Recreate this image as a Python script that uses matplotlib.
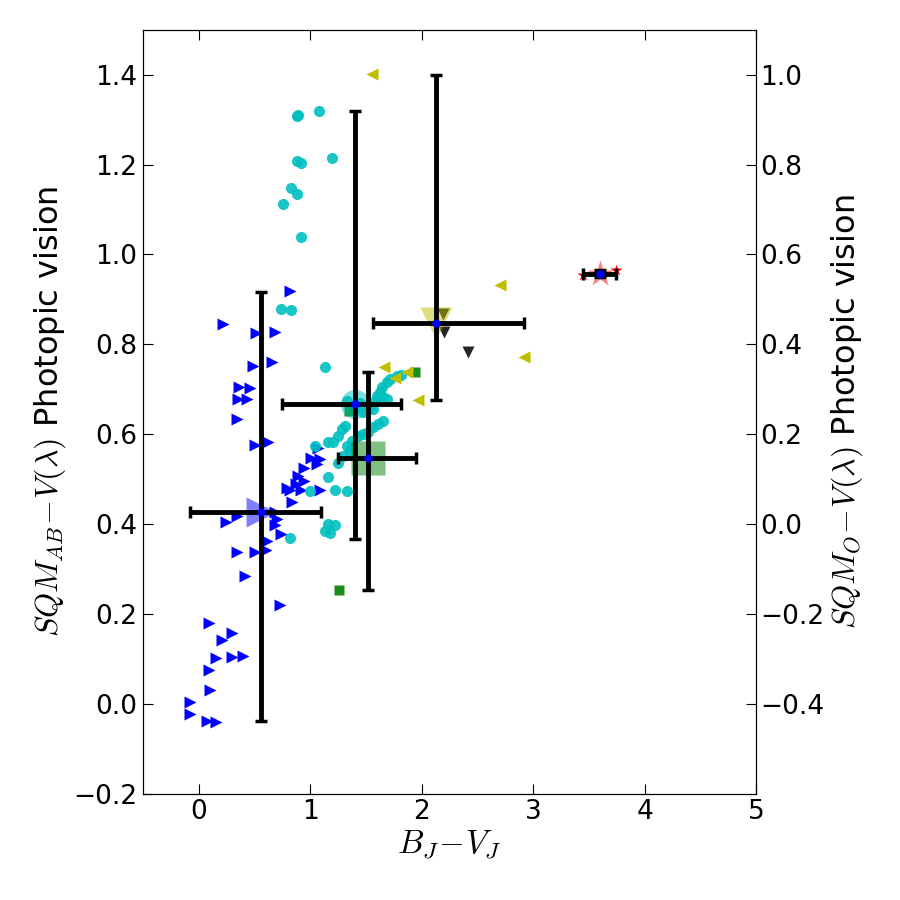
import numpy as np
import matplotlib
matplotlib.use("Agg")
import matplotlib.pyplot as plt

plt.rcParams["mathtext.fontset"] = "cm"
plt.rcParams["font.family"] = "DejaVu Sans"

# ---- data ----
blue_x = [0.82, 0.215, 0.51, 0.68, 0.485, 0.66, 0.36, 0.46, 0.35, 0.43,
          0.34, 0.50, 0.62, 1.07, 1.01, 1.09, 1.06, 0.94, 0.89, 0.94,
          0.87, 0.79, 0.82, 0.92, 1.09, 0.84, 0.34, 0.24, 0.68, 0.70,
          0.68, 0.74, 0.61, 0.60, 0.34, 0.50, 0.41, 0.73, 0.09, 0.30,
          0.21, 0.15, 0.30, 0.40, 0.09, 0.10, -0.08, -0.08, 0.07, 0.15]
blue_y = [0.919, 0.845, 0.825, 0.827, 0.751, 0.760, 0.705, 0.702, 0.678, 0.678,
          0.633, 0.575, 0.582, 0.569, 0.548, 0.544, 0.533, 0.524, 0.506, 0.497,
          0.490, 0.480, 0.477, 0.475, 0.477, 0.450, 0.419, 0.404, 0.426, 0.412,
          0.399, 0.377, 0.363, 0.343, 0.339, 0.337, 0.285, 0.221, 0.180, 0.158,
          0.143, 0.103, 0.105, 0.107, 0.076, 0.031, 0.004, -0.022, -0.038, -0.040]

cyan_x = [0.889, 0.880, 1.077, 0.880, 0.916, 1.194, 0.826, 0.880, 0.754, 0.916,
          0.736, 0.826, 1.131, 1.777, 1.715, 1.688, 1.643, 1.625, 1.598, 1.652,
          1.688, 1.329, 1.580, 1.535, 1.508, 1.562, 1.472, 1.652, 1.607, 1.562,
          1.517, 1.472, 1.427, 1.373, 1.311, 1.284, 1.248, 1.203, 1.158, 1.041,
          1.329, 1.355, 1.293, 1.248, 1.158, 0.996, 1.221, 1.329, 1.158, 1.221,
          1.131, 1.176, 0.817, 1.813, 1.40, 1.45]
cyan_y = [1.311, 1.307, 1.320, 1.208, 1.204, 1.215, 1.148, 1.135, 1.113, 1.039,
          0.878, 0.876, 0.749, 0.729, 0.722, 0.716, 0.705, 0.693, 0.685, 0.682,
          0.678, 0.673, 0.673, 0.662, 0.656, 0.656, 0.649, 0.629, 0.622, 0.615,
          0.606, 0.600, 0.595, 0.584, 0.618, 0.611, 0.595, 0.582, 0.582, 0.573,
          0.573, 0.566, 0.551, 0.537, 0.504, 0.473, 0.475, 0.473, 0.401, 0.399,
          0.384, 0.381, 0.370, 0.731, 0.660, 0.670]

green_x = [1.257, 1.939, 1.346]
green_y = [0.254, 0.738, 0.651]

yellow_x = [1.553, 2.702, 2.917, 1.661, 1.759, 1.867, 1.966]
yellow_y = [1.402, 0.932, 0.771, 0.749, 0.725, 0.738, 0.676]

black_x = [2.19, 2.20, 2.42]
black_y = [0.867, 0.827, 0.783]

red_x = [3.447, 3.743]
red_y = [0.954, 0.965]

# group summaries: centre and min / max extents
grp_color = ["b", "c", "g", "y", "r"]
grp_marker = [">", "o", "s", "v", "*"]
grp_size = [22, 21, 24, 23, 20]
cen_x = [0.557, 1.40, 1.517, 2.127, 3.60]
cen_y = [0.426, 0.667, 0.548, 0.848, 0.956]
lo_x = [-0.08, 0.745, 1.25, 1.56, 3.45]
hi_x = [1.10, 1.81, 1.95, 2.92, 3.74]
lo_y = [-0.038, 0.368, 0.254, 0.676, 0.950]
hi_y = [0.916, 1.320, 0.738, 1.400, 0.965]

fig = plt.figure(figsize=(9, 9), dpi=100, facecolor="white")
ax = fig.add_axes([0.159, 0.118, 0.681, 0.849])

ax.plot(blue_x, blue_y, ">", color="b", ms=8, mec="none", zorder=2)
ax.plot(cyan_x, cyan_y, "o", color="c", ms=8, mec="none", alpha=0.9, zorder=2)
ax.plot(green_x, green_y, "s", color="g", ms=7, mec="none", alpha=0.9, zorder=2)
ax.plot(yellow_x, yellow_y, "<", color="y", ms=8, mec="none", zorder=2)
ax.plot(black_x, black_y, "v", color="k", ms=8, mec="none", alpha=0.85, zorder=2)
ax.plot(red_x, red_y, "*", color="r", ms=9, mec="none", zorder=2)

for i in range(len(cen_x)):
    ax.plot(cen_x[i], cen_y[i], grp_marker[i], color=grp_color[i], ms=grp_size[i],
            mec="none", alpha=0.5, zorder=3)
    xerr = [[cen_x[i] - lo_x[i]], [hi_x[i] - cen_x[i]]]
    yerr = [[cen_y[i] - lo_y[i]], [hi_y[i] - cen_y[i]]]
    ax.errorbar(cen_x[i], cen_y[i], xerr=xerr, yerr=yerr, fmt="o", color="b",
                ms=5, mec="b", ecolor="k", elinewidth=3.5, capsize=4,
                capthick=2.5, zorder=4)

ax.set_xlim(-0.5, 5)
ax.set_ylim(-0.2, 1.5)
ax.set_xticks([0, 1, 2, 3, 4, 5])
ax.set_yticks(np.arange(-0.2, 1.41, 0.2))
ax.set_xticklabels(["0", "1", "2", "3", "4", "5"])
ax.set_yticklabels(["\u22120.2", "0.0", "0.2", "0.4", "0.6", "0.8", "1.0", "1.2", "1.4"])
ax.tick_params(direction="in", length=7, labelsize=19, top=True, right=False, pad=4)
ax.set_xlabel(r"$B_J\!-\!V_J$", fontsize=24, labelpad=2)
ax.set_ylabel(r"$SQM_{AB}\!-\!V(\lambda)$ Photopic vision", fontsize=23, labelpad=4)

ax2 = ax.twinx()
ax2.set_ylim(-0.6, 1.1)
ax2.set_yticks(np.arange(-0.4, 1.01, 0.2))
ax2.set_yticklabels(["\u22120.4", "\u22120.2", "0.0", "0.2", "0.4", "0.6", "0.8", "1.0"])
ax2.tick_params(direction="in", length=7, labelsize=19, pad=3)
ax2.set_ylabel(r"$SQM_{O}\!-\!V(\lambda)$ Photopic vision", fontsize=23, labelpad=4)

fig.savefig("out.png", dpi=100, facecolor="white")
